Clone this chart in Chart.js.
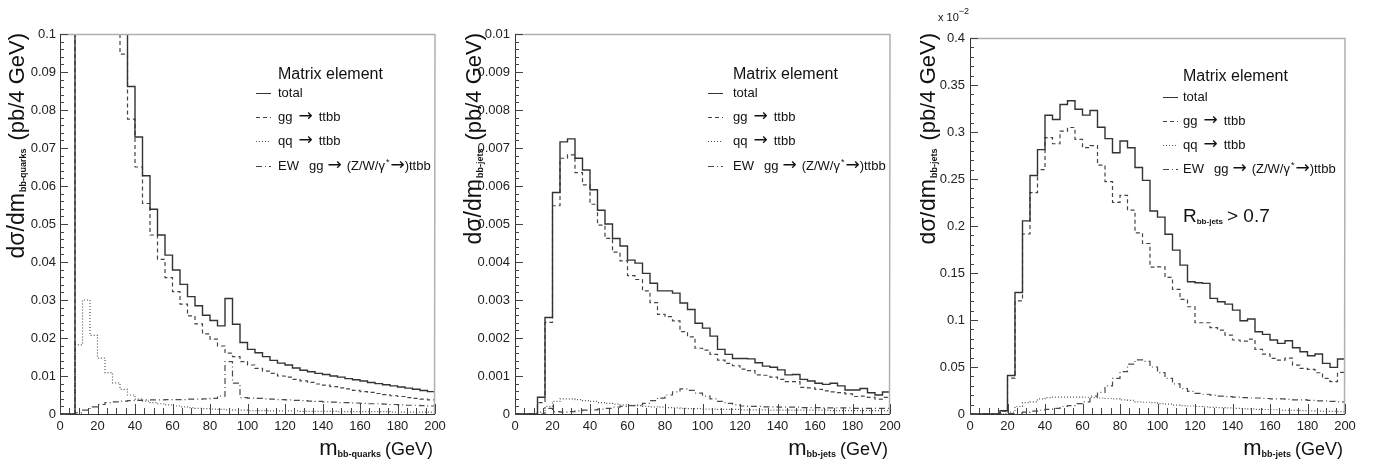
<!DOCTYPE html>
<html><head><meta charset="utf-8">
<script src="https://cdn.jsdelivr.net/npm/chart.js@4.4.1/dist/chart.umd.min.js"></script>
<style>
html,body{margin:0;padding:0;background:#fff;width:1383px;height:464px;overflow:hidden}
.pane{position:absolute;top:0;height:464px}
canvas{display:block}
</style></head><body>
<div class="pane" style="left:0;width:460px"><canvas id="c1" width="460" height="464"></canvas></div>
<div class="pane" style="left:460px;width:460px"><canvas id="c2" width="460" height="464"></canvas></div>
<div class="pane" style="left:920px;width:463px"><canvas id="c3" width="463" height="464"></canvas></div>
<script>
// ---------- categories (4 GeV bins) ----------
const binLowEdges = [0,4,8,12,16,20,24,28,32,36,40,44,48,52,56,60,64,68,72,76,80,84,88,92,96,100,104,108,112,116,120,124,128,132,136,140,144,148,152,156,160,164,168,172,176,180,184,188,192,196];
const binUpperEdge = 200;

// ---------- tick labels ----------
const xTickLabels = ['0','20','40','60','80','100','120','140','160','180','200'];
const yTickLabels1 = ['0','0.01','0.02','0.03','0.04','0.05','0.06','0.07','0.08','0.09','0.1'];
const yTickLabels2 = ['0','0.001','0.002','0.003','0.004','0.005','0.006','0.007','0.008','0.009','0.01'];
const yTickLabels3 = ['0','0.05','0.1','0.15','0.2','0.25','0.3','0.35','0.4'];

// ---------- panel 1 : m(bb-quarks) ----------
const total1 = [0,0,0.62,0.45,0.33,0.25,0.19,0.145,0.112,0.0862,0.0729,0.0627,0.0539,0.0471,0.0418,0.0379,0.0341,0.0309,0.0285,0.026,0.0246,0.0232,0.0304,0.0236,0.0188,0.017,0.0161,0.0151,0.0141,0.0134,0.0129,0.0121,0.0115,0.0111,0.0107,0.0104,0.01,0.0097,0.0093,0.009,0.0087,0.0083,0.008,0.0077,0.0074,0.0071,0.0068,0.0065,0.0062,0.0059];
const gg1 = [0,0,0.58,0.41,0.3,0.22,0.165,0.125,0.0947,0.0776,0.065,0.0554,0.0471,0.0407,0.0359,0.0322,0.0289,0.0258,0.0237,0.0211,0.0197,0.0179,0.016,0.0151,0.0138,0.0129,0.012,0.0113,0.0107,0.01,0.0097,0.0091,0.0087,0.0083,0.0079,0.0076,0.0072,0.0069,0.0066,0.0062,0.0059,0.0057,0.0054,0.0051,0.0048,0.0046,0.0043,0.0041,0.0039,0.0037];
const qq1 = [0,0,0.0182,0.030,0.0207,0.0147,0.0109,0.0082,0.0065,0.005,0.0039,0.0034,0.003,0.0027,0.0024,0.0021,0.0019,0.0017,0.0015,0.0014,0.0013,0.0012,0.0011,0.001,0.001,0.0009,0.0009,0.0009,0.0008,0.0008,0.0008,0.0008,0.0007,0.0007,0.0007,0.0007,0.0007,0.0006,0.0006,0.0006,0.0006,0.0006,0.0006,0.0006,0.0005,0.0005,0.0005,0.0005,0.0005,0.0005];
const ew1 = [0,0,0.0003,0.001,0.0019,0.0025,0.003,0.0032,0.0034,0.0035,0.0036,0.0037,0.0037,0.0037,0.0038,0.0038,0.0038,0.0039,0.0039,0.004,0.0041,0.0047,0.0138,0.0081,0.0043,0.0042,0.0041,0.004,0.0039,0.0038,0.0037,0.0036,0.0035,0.0034,0.0033,0.0032,0.0031,0.003,0.003,0.0029,0.0028,0.0027,0.0027,0.0026,0.0025,0.0024,0.0023,0.0023,0.0022,0.0021];

// ---------- panel 2 : m(bb-jets) ----------
const total2 = [0,0,0,0.00044,0.00254,0.00583,0.00716,0.00724,0.00673,0.00642,0.0059,0.00536,0.005,0.00462,0.00442,0.00405,0.00397,0.0037,0.00344,0.00324,0.00324,0.00318,0.00292,0.00275,0.00239,0.00226,0.00205,0.0017,0.00157,0.00146,0.00146,0.00145,0.00135,0.00126,0.00123,0.00116,0.00103,0.00104,0.00091,0.00087,0.00081,0.00078,0.00081,0.00074,0.00063,0.00063,0.00067,0.00056,0.0005,0.00058];
const gg2 = [0,0,0,0.0003,0.00241,0.00548,0.00673,0.00682,0.00635,0.00603,0.00552,0.00497,0.00462,0.00426,0.00403,0.00364,0.00354,0.00324,0.00293,0.00262,0.00256,0.00245,0.00217,0.00203,0.00173,0.00168,0.00157,0.00142,0.00133,0.00127,0.00118,0.00114,0.00103,0.00102,0.00097,0.00091,0.00085,0.00085,0.0007,0.00069,0.00065,0.00061,0.00058,0.00056,0.00053,0.00046,0.00047,0.00044,0.00039,0.00044];
const qq2 = [0,0,0,0.00005,0.0002,0.00033,0.0004,0.0004,0.00038,0.00035,0.00033,0.0003,0.00028,0.00026,0.00024,0.00023,0.00022,0.0002,0.00019,0.00018,0.00017,0.00016,0.00015,0.00014,0.00014,0.00013,0.00013,0.00012,0.00012,0.00012,0.00011,0.00011,0.00011,0.00011,0.0001,0.0001,0.0001,0.0001,0.0001,0.0001,0.0001,0.0001,0.00009,0.00009,0.00009,0.00009,0.00009,0.00009,0.00009,0.00009];
const ew2 = [0,0,0,0,0.00015,0.00006,0.00005,0.00006,0.00008,0.0001,0.00011,0.00013,0.00015,0.00018,0.0002,0.00022,0.00024,0.00028,0.00035,0.00042,0.0005,0.00058,0.00066,0.00062,0.00055,0.00047,0.0004,0.00033,0.00028,0.00024,0.00021,0.0002,0.0002,0.00019,0.00019,0.00018,0.00018,0.00018,0.00017,0.00017,0.00017,0.00016,0.00016,0.00016,0.00016,0.00015,0.00015,0.00015,0.00015,0.00015];

// ---------- panel 3 : m(bb-jets), R > 0.7  (units of 10^-2) ----------
const total3 = [0,0,0,0,0.0035,0.041,0.1293,0.2055,0.2538,0.2813,0.3178,0.3133,0.3293,0.3332,0.3242,0.318,0.3228,0.305,0.293,0.278,0.2905,0.2832,0.2622,0.2485,0.216,0.2094,0.1913,0.1743,0.1584,0.1407,0.1396,0.139,0.123,0.1194,0.1169,0.1105,0.0992,0.101,0.0875,0.0847,0.0787,0.0751,0.0779,0.0705,0.0663,0.062,0.0638,0.0539,0.0496,0.0585];
const gg3 = [0,0,0,0,0.003,0.0382,0.1203,0.1915,0.2356,0.26,0.294,0.2875,0.301,0.3048,0.2922,0.2833,0.2855,0.2647,0.2472,0.2252,0.2326,0.2168,0.1927,0.1814,0.1562,0.1566,0.1453,0.1325,0.1219,0.1141,0.0971,0.0971,0.0918,0.0893,0.084,0.0787,0.0776,0.0797,0.0687,0.0638,0.0592,0.0574,0.0595,0.0521,0.0485,0.0475,0.0439,0.0379,0.0344,0.0443];
const qq3 = [0,0,0,0,0,0.002,0.008,0.012,0.013,0.016,0.0175,0.018,0.018,0.018,0.018,0.0178,0.0175,0.017,0.0165,0.016,0.015,0.0145,0.013,0.0125,0.012,0.011,0.0105,0.0095,0.009,0.0085,0.008,0.0075,0.007,0.0068,0.0065,0.006,0.0058,0.0055,0.005,0.0048,0.0045,0.0042,0.004,0.0038,0.0035,0.0033,0.003,0.0028,0.0027,0.0025];
const ew3 = [0,0,0,0,0,0.0005,0.001,0.002,0.003,0.004,0.005,0.006,0.008,0.009,0.011,0.013,0.019,0.023,0.03,0.038,0.045,0.053,0.0575,0.056,0.05,0.044,0.038,0.032,0.027,0.024,0.022,0.021,0.02,0.019,0.0185,0.018,0.0175,0.017,0.017,0.0165,0.016,0.016,0.0155,0.015,0.015,0.0145,0.014,0.014,0.0135,0.013];

// ---------- styles ----------
const FONT = '"Liberation Sans", Arial, "DejaVu Sans", sans-serif';
const ARROWFONT = '17px "DejaVu Sans", sans-serif';
const seriesStyles = [
  {color:'#333', dash:[], width:1.4},
  {color:'#444', dash:[4,3], width:1.2},
  {color:'#555', dash:[1,2], width:1.2},
  {color:'#4a4a4a', dash:[6,3,1,3], width:1.2}
];

function histPoints(values){
  const pts = values.map((v,i)=>({x:binLowEdges[i], y:v}));
  pts.push({x:binUpperEdge, y:values[values.length-1]});
  return pts;
}

function drawParts(ctx, parts, x, y, align){
  let w = 0;
  parts.forEach(p=>{ctx.font=p.font; p.w=ctx.measureText(p.text).width; w += p.w + (p.gap||0);});
  let cx = align==='right' ? x - w : x;
  parts.forEach(p=>{ctx.font=p.font; ctx.fillText(p.text, cx, y + (p.dy||0)); cx += p.w + (p.gap||0);});
}

const panels = [
  {id:'c1', W:460, plot:{left:60,right:435,top:34,bottom:414}, yMax:0.1, yStep:0.002, yLabels:yTickLabels1, yPad:4,
   series:[total1,gg1,qq1,ew1], sub:'bb-quarks', yTitleX:24, legend:{lx:256, tx:278, titleY:79, rows:[93,117,141,166]}},
  {id:'c2', W:460, plot:{left:55,right:430,top:34,bottom:414}, yMax:0.01, yStep:0.0002, yLabels:yTickLabels2, yPad:5,
   series:[total2,gg2,qq2,ew2], sub:'bb-jets', yTitleX:21, legend:{lx:248, tx:273, titleY:79, rows:[93,117,141,166]}},
  {id:'c3', W:463, plot:{left:50,right:425,top:38,bottom:414}, yMax:0.4, yStep:0.01, yLabels:yTickLabels3, yPad:5,
   series:[total3,gg3,qq3,ew3], sub:'bb-jets', yTitleX:15, legend:{lx:243, tx:263, titleY:81, rows:[97,121,145,169]}, rcut:true, exponent:true}
];

const decorPlugin = {
  id:'decor',
  afterDatasetsDraw(chart, args, opts){
    const {ctx, chartArea:a, scales:{x,y}} = chart;
    ctx.save();
    ctx.lineWidth = 1.5; ctx.strokeStyle = '#b0b0b0';
    ctx.beginPath(); ctx.moveTo(a.left, a.top+0.5); ctx.lineTo(a.right, a.top+0.5); ctx.lineTo(a.right-0.5, a.bottom); ctx.stroke();
    ctx.lineWidth = 1; ctx.strokeStyle = '#333';
    ctx.beginPath(); ctx.moveTo(a.left+0.5, a.top); ctx.lineTo(a.left+0.5, a.bottom+0.5); ctx.lineTo(a.right, a.bottom+0.5); ctx.stroke();
    ctx.strokeStyle = '#444'; ctx.beginPath();
    x.ticks.forEach((t,i)=>{const px=Math.round(x.getPixelForValue(t.value))+0.5; const len=(i%4===0)?10:6; ctx.moveTo(px,a.bottom); ctx.lineTo(px,a.bottom-len);});
    y.ticks.forEach((t,i)=>{const py=Math.round(y.getPixelForValue(t.value))+0.5; const len=(i%5===0)?8:4; ctx.moveTo(a.left,py); ctx.lineTo(a.left+len,py);});
    ctx.stroke();
    ctx.restore();
  },
  afterDraw(chart, args, opts){
    const p = opts.panel;
    const {ctx, chartArea:a} = chart;
    ctx.save();
    ctx.fillStyle = '#111'; ctx.textBaseline = 'alphabetic'; ctx.textAlign = 'left';
    drawParts(ctx, [
      {text:'m', font:'22px '+FONT},
      {text:p.sub, font:'bold 9px '+FONT, dy:2, gap:4},
      {text:'(GeV)', font:'18px '+FONT}
    ], a.right-2, 455, 'right');
    ctx.save();
    ctx.translate(p.yTitleX, 33);
    ctx.rotate(-Math.PI/2);
    drawParts(ctx, [
      {text:'d\u03C3/dm', font:'23px '+FONT, gap:1},
      {text:p.sub, font:'bold 9px '+FONT, dy:2, gap:8},
      {text:'(pb/4 GeV)', font:'22px '+FONT}
    ], 0, 0, 'right');
    ctx.restore();
    const L = p.legend;
    ctx.fillStyle = '#111';
    ctx.font = '16px '+FONT;
    ctx.fillText('Matrix element', L.tx, L.titleY);
    const f13 = '13px '+FONT;
    const rowParts = [
      [{text:'total', font:f13}],
      [{text:'gg', font:f13, gap:6},{text:'\u2192', font:ARROWFONT, gap:6},{text:'ttbb', font:f13}],
      [{text:'qq', font:f13, gap:6},{text:'\u2192', font:ARROWFONT, gap:6},{text:'ttbb', font:f13}],
      [{text:'EW', font:f13, gap:10},{text:'gg', font:f13, gap:4},{text:'\u2192', font:ARROWFONT, gap:5},
       {text:'(Z/W/\u03B3', font:f13, gap:1},{text:'*', font:'9px '+FONT, dy:-5, gap:1},{text:'\u2192', font:ARROWFONT},{text:')ttbb', font:f13}]
    ];
    rowParts.forEach((parts,i)=>{
      const yy = L.rows[i];
      const st = seriesStyles[i];
      ctx.save(); ctx.strokeStyle = st.color; ctx.lineWidth = 1; ctx.setLineDash(st.dash);
      ctx.beginPath(); ctx.moveTo(L.lx, yy+0.5); ctx.lineTo(L.lx+15, yy+0.5); ctx.stroke(); ctx.restore();
      drawParts(ctx, parts, L.tx, yy+4, 'left');
    });
    if (p.rcut){
      drawParts(ctx, [
        {text:'R', font:'19px '+FONT},
        {text:'bb-jets', font:'bold 8px '+FONT, dy:2, gap:4},
        {text:'> 0.7', font:'19px '+FONT}
      ], L.tx, 222, 'left');
    }
    if (p.exponent){
      drawParts(ctx, [
        {text:'x 10', font:'11px '+FONT},
        {text:'\u22122', font:'9px '+FONT, dy:-7}
      ], 18, 21, 'left');
    }
    ctx.restore();
  }
};

panels.forEach(p=>{
  const H = 464;
  new Chart(document.getElementById(p.id), {
    type:'line',
    data:{datasets: p.series.map((vals,i)=>({
      data: histPoints(vals),
      stepped:'before',
      borderColor: seriesStyles[i].color,
      borderDash: seriesStyles[i].dash,
      borderWidth: seriesStyles[i].width,
      pointRadius:0, fill:false, tension:0
    }))},
    options:{
      responsive:false, animation:false, devicePixelRatio:1,
      layout:{padding:{left:0, right:p.W - p.plot.right, top:p.plot.top, bottom:0}},
      plugins:{legend:{display:false}, tooltip:{enabled:false}, decor:{panel:p}},
      scales:{
        x:{type:'linear', min:0, max:200,
           grid:{display:false, drawTicks:false}, border:{display:false},
           afterFit:s=>{s.height = H - p.plot.bottom;},
           ticks:{stepSize:5, maxTicksLimit:1000, autoSkip:false, maxRotation:0, minRotation:0, padding:5,
                  color:'#222', font:{family:FONT, size:13},
                  callback:(v,i)=> (i%4===0 ? xTickLabels[i/4] : '')}},
        y:{type:'linear', min:0, max:p.yMax,
           grid:{display:false, drawTicks:false}, border:{display:false},
           afterFit:s=>{s.width = p.plot.left;},
           ticks:{stepSize:p.yStep, maxTicksLimit:1000, autoSkip:false, padding:p.yPad,
                  color:'#222', font:{family:FONT, size:13},
                  callback:(v,i)=> (i%5===0 ? p.yLabels[i/5] : '')}}
      }
    },
    plugins:[decorPlugin]
  });
});
</script>
</body></html>
